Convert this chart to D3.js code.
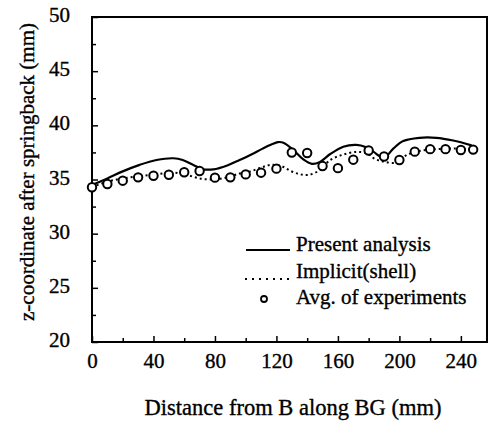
<!DOCTYPE html>
<html>
<head>
<meta charset="utf-8">
<script src="https://cdn.jsdelivr.net/npm/d3@7/dist/d3.min.js"></script>
<style>
  html, body { margin: 0; padding: 0; background: #fff; }
  svg { display: block; }
  text { font-family: "Liberation Serif", "Times New Roman", serif; fill: #000; stroke: #000; stroke-width: 0.35px; }
</style>
</head>
<body>
<svg id="chart" width="493" height="424"></svg>
<script>
// ---- data ----
const xMajorTicks = [0, 40, 80, 120, 160, 200, 240];
const xMinorTicks = [20, 60, 100, 140, 180, 220];
const yMajorTicks = [20, 25, 30, 35, 40, 45, 50];
const yMinorTicks = [22.5, 27.5, 32.5, 37.5, 42.5, 47.5];

const presentX = [0, 10, 20, 31, 42, 53, 59, 66, 72, 79, 88, 96, 103, 111, 117, 121, 124.5, 131, 137.5, 143, 148, 155, 163.5, 172, 178, 183, 190, 196, 202.5, 213, 224, 235, 247];
const presentY = [34.5, 35.1, 35.75, 36.35, 36.8, 36.96, 36.8, 36.34, 35.95, 35.94, 36.3, 36.8, 37.26, 37.85, 38.25, 38.45, 38.4, 37.72, 36.85, 36.45, 36.6, 37.35, 38.03, 38.2, 38.0, 37.57, 37.0, 37.85, 38.55, 38.85, 38.85, 38.6, 38.15];

const implicitX = [0, 10, 20, 31, 42, 53, 61, 70, 79, 88, 96, 103, 110, 116, 123, 129, 135, 141, 148, 155, 163.5, 172, 179, 184, 190, 197, 204, 212, 224, 237, 247];
const implicitY = [34.3, 34.8, 35.1, 35.3, 35.5, 35.63, 35.45, 35.1, 35.0, 35.2, 35.55, 35.75, 36.1, 36.34, 36.25, 35.8, 35.5, 35.42, 35.85, 36.8, 37.3, 37.55, 37.4, 36.9, 36.65, 36.55, 37.2, 37.6, 37.8, 37.85, 37.75];

const expX = [0, 10, 20, 30, 40, 50, 60, 70, 80, 90, 100, 110, 120, 130, 140, 150, 160, 170, 180, 190, 200, 210, 220, 230, 240, 248];
const expY = [34.28, 34.58, 34.89, 35.2, 35.35, 35.44, 35.67, 35.78, 35.17, 35.2, 35.47, 35.63, 36.0, 37.49, 37.45, 36.24, 36.05, 36.83, 37.68, 37.12, 36.8, 37.57, 37.8, 37.8, 37.72, 37.76];

const legendLabels = ["Present analysis", "Implicit(shell)", "Avg. of experiments"];
const xTitle = "Distance from B along BG (mm)";
const yTitle = "z-coordinate after springback (mm)";

// ---- layout ----
const svg = d3.select("#chart");
const L = 92, R = 487, T = 17, B = 342;
const x = d3.scaleLinear().domain([0, 257]).range([L, R]);
const y = d3.scaleLinear().domain([20, 50]).range([B, T]);

// axes (ticks pointing inward)
const gx = svg.append("g").attr("transform", `translate(0,${B})`)
  .call(d3.axisBottom(x).tickValues(xMajorTicks).tickSizeInner(-6).tickSizeOuter(0).tickPadding(11).tickFormat(d3.format("d")));
const gxm = svg.append("g").attr("transform", `translate(0,${B})`)
  .call(d3.axisBottom(x).tickValues(xMinorTicks).tickSizeInner(-4).tickSizeOuter(0).tickFormat(""));
const gy = svg.append("g").attr("transform", `translate(${L},0)`)
  .call(d3.axisLeft(y).tickValues(yMajorTicks).tickSizeInner(-6).tickSizeOuter(0).tickPadding(22).tickFormat(d3.format("d")));
const gym = svg.append("g").attr("transform", `translate(${L},0)`)
  .call(d3.axisLeft(y).tickValues(yMinorTicks).tickSizeInner(-4).tickSizeOuter(0).tickFormat(""));

[gx, gxm, gy, gym].forEach(g => {
  g.select(".domain").remove();
  g.selectAll(".tick line").attr("stroke", "#000").attr("stroke-width", 1.5);
});
gx.selectAll(".tick text").attr("font-size", 21).attr("font-family", "Liberation Serif, serif").attr("fill", "#000");
gy.selectAll(".tick text").attr("font-size", 21).attr("font-family", "Liberation Serif, serif").attr("fill", "#000").attr("dy", "0.22em");

// frame
svg.append("rect").attr("x", L).attr("y", T).attr("width", R - L).attr("height", B - T)
  .attr("fill", "none").attr("stroke", "#000").attr("stroke-width", 2);

// lines
const lineGen = d3.line().x(d => x(d[0])).y(d => y(d[1])).curve(d3.curveCatmullRom.alpha(0.5));
const presentData = presentX.map((v, i) => [v, presentY[i]]);
const implicitData = implicitX.map((v, i) => [v, implicitY[i]]);

svg.append("path").datum(implicitData).attr("d", lineGen)
  .attr("fill", "none").attr("stroke", "#000").attr("stroke-width", 2).attr("stroke-dasharray", "2,3");
svg.append("path").datum(presentData).attr("d", lineGen)
  .attr("fill", "none").attr("stroke", "#000").attr("stroke-width", 2.2);

// experiment markers
svg.append("g").selectAll("circle").data(expX.map((v, i) => [v, expY[i]])).join("circle")
  .attr("cx", d => x(d[0])).attr("cy", d => y(d[1])).attr("r", 4.2)
  .attr("fill", "#fff").attr("stroke", "#000").attr("stroke-width", 2);

// legend
const lg = svg.append("g");
lg.append("line").attr("x1", 246).attr("x2", 290).attr("y1", 250).attr("y2", 250)
  .attr("stroke", "#000").attr("stroke-width", 2);
lg.append("line").attr("x1", 245).attr("x2", 290).attr("y1", 279).attr("y2", 279)
  .attr("stroke", "#000").attr("stroke-width", 2).attr("stroke-dasharray", "2,5");
lg.append("circle").attr("cx", 264).attr("cy", 299).attr("r", 3)
  .attr("fill", "#fff").attr("stroke", "#000").attr("stroke-width", 1.8);
const legY = [251, 278, 304];
legendLabels.forEach((t, i) => {
  lg.append("text").attr("x", 296).attr("y", legY[i]).attr("font-size", 21).text(t);
});

// titles
svg.append("text").attr("x", 293).attr("y", 415).attr("text-anchor", "middle")
  .attr("font-size", 22.5).text(xTitle);
svg.append("text").attr("transform", "translate(34,172) rotate(-90)").attr("text-anchor", "middle")
  .attr("font-size", 21).text(yTitle);
</script>
</body>
</html>
